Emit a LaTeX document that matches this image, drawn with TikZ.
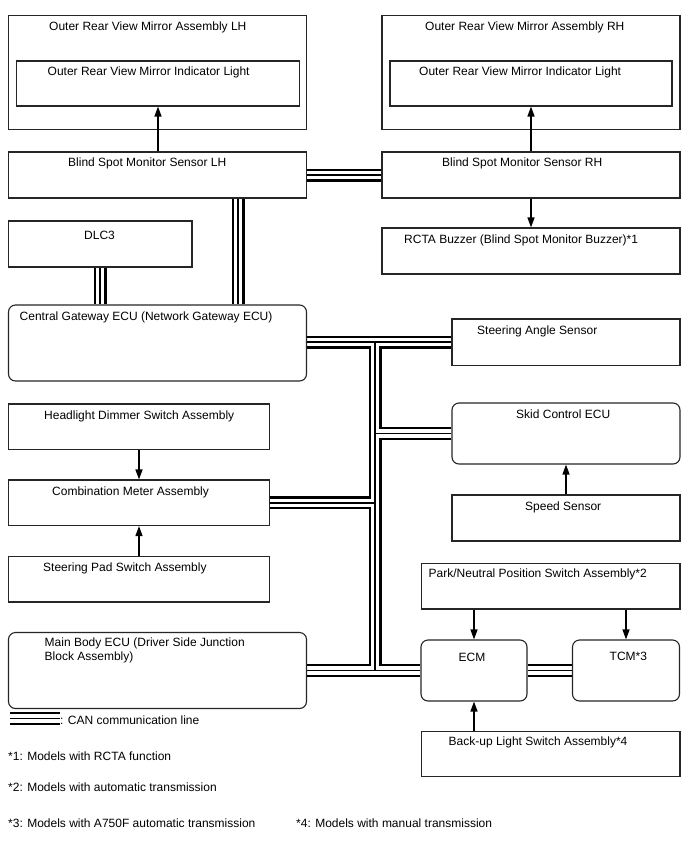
\documentclass[tikz,border=0pt]{standalone}
\usepackage{fontspec}
\setmainfont{Liberation Sans}
\usetikzlibrary{arrows.meta, backgrounds}

\begin{document}
\begin{tikzpicture}[x=1pt, y=-1pt, >={Triangle[length=10pt, width=7pt]},
  font=\fontsize{12}{14}\selectfont,
  box/.style={draw=black!85, line width=1.1pt, inner sep=0pt},
  ecu/.style={box, rounded corners=7pt},
  txt/.style={anchor=base west, inner sep=0pt},
  link/.style={->, line width=1.4pt},
  can/.style={line width=1.6pt, preaction={draw, line width=13pt}, preaction={draw=white, line width=8.4pt}}]
  \useasboundingbox (0,0) rectangle (688,852);
  % mirrors
  \node[box, minimum width=298pt, minimum height=114pt] (mirrorLH) at (157.5,72.5) {};
  \node[box, minimum width=283pt, minimum height=45pt] (lightLH) at (158,83.5) {};
  \node[box, minimum width=298pt, minimum height=114pt] (mirrorRH) at (531,72.5) {};
  \node[box, minimum width=282pt, minimum height=45pt] (lightRH) at (531,83.5) {};
  \node[txt] (mirrorLHtxt) at (49,30) {Outer Rear View Mirror Assembly LH};
  \node[txt] (lightLHtxt) at (47.5,75) {Outer Rear View Mirror Indicator Light};
  \node[txt] (mirrorRHtxt) at (425,30) {Outer Rear View Mirror Assembly RH};
  \node[txt] (lightRHtxt) at (419,75) {Outer Rear View Mirror Indicator Light};
  % sensors
  \node[box, minimum width=298pt, minimum height=46pt] (sensorLH) at (157.5,175) {};
  \node[box, minimum width=298pt, minimum height=46pt] (sensorRH) at (531,175) {};
  \node[box, minimum width=298pt, minimum height=46pt] (buzzer) at (531,251) {};
  \node[box, minimum width=183.5pt, minimum height=46pt] (dlc) at (100.25,244) {};
  \node[txt] (sensorLHtxt) at (68,166.5) {Blind Spot Monitor Sensor LH};
  \node[txt] (sensorRHtxt) at (442,166.5) {Blind Spot Monitor Sensor RH};
  \node[txt] (buzzerTxt) at (404,243) {RCTA Buzzer (Blind Spot Monitor Buzzer)*1};
  \node[txt] (dlcTxt) at (84,239) {DLC3};
  % ECUs
  \node[ecu, minimum width=298pt, minimum height=76pt] (gateway) at (157.5,343) {};
  \node[box, minimum width=228pt, minimum height=46.5pt] (steerAngle) at (566,342.25) {};
  \node[ecu, minimum width=228pt, minimum height=61pt] (skid) at (566,433.5) {};
  \node[box, minimum width=228pt, minimum height=46pt] (speed) at (566,518) {};
  \node[box, minimum width=261pt, minimum height=45.5pt] (headlight) at (139,426.75) {};
  \node[box, minimum width=261pt, minimum height=45.5pt] (combo) at (139,502.75) {};
  \node[box, minimum width=261pt, minimum height=45.5pt] (steerPad) at (139,579.25) {};
  \node[ecu, minimum width=298pt, minimum height=76pt] (mainBody) at (157.5,670.5) {};
  \node[box, minimum width=258.5pt, minimum height=45.5pt] (parkSw) at (550.75,586.25) {};
  \node[ecu, minimum width=106pt, minimum height=61pt] (ecm) at (474,670.5) {};
  \node[ecu, minimum width=107pt, minimum height=61pt] (tcm) at (626,670.5) {};
  \node[box, minimum width=258.5pt, minimum height=45pt] (backup) at (550.75,754) {};
  \node[txt] (gatewayTxt) at (19.5,320) {Central Gateway ECU (Network Gateway ECU)};
  \node[txt] (steerAngleTxt) at (477,334) {Steering Angle Sensor};
  \node[txt] (skidTxt) at (516,418) {Skid Control ECU};
  \node[txt] (speedTxt) at (525,510) {Speed Sensor};
  \node[txt] (headlightTxt) at (44,419) {Headlight Dimmer Switch Assembly};
  \node[txt] (comboTxt) at (52,495) {Combination Meter Assembly};
  \node[txt] (steerPadTxt) at (43,571.5) {Steering Pad Switch Assembly};
  \node[txt, align=left] (mainBodyTxt) at (44.5,660.5) {Main Body ECU (Driver Side Junction\\Block Assembly)};
  \node[txt] (parkTxt) at (428.5,577.5) {Park/Neutral Position Switch Assembly*2};
  \node[txt] (ecmTxt) at (458.5,661.5) {ECM};
  \node[txt] (tcmTxt) at (609.5,660) {TCM*3};
  \node[txt] (backupTxt) at (448.5,745) {Back-up Light Switch Assembly*4};
  % arrows
  \draw[link] (sensorLH.north -| lightLH) -- (lightLH.south);
  \draw[link] (sensorRH.north) -- (lightRH.south);
  \draw[link] (sensorRH.south) -- (buzzer.north);
  \draw[link] (headlight.south) -- (combo.north);
  \draw[link] (steerPad.north) -- (combo.south);
  \draw[link] (speed.north) -- (skid.south);
  \draw[link] (parkSw.south -| ecm) -- (ecm.north);
  \draw[link] (parkSw.south -| tcm) -- (tcm.north);
  \draw[link] (backup.north -| ecm) -- (ecm.south);
  % legend and notes
  \coordinate (legA) at (10,718.5);
  \coordinate (legB) at (60,718.5);
  \node[txt] (legendTxt) at (60,724) {: CAN communication line};
  \node[txt] (note1) at (8,760.5) {*1: Models with RCTA function};
  \node[txt] (note2) at (8,791.5) {*2: Models with automatic transmission};
  \node[txt] (note3) at (8,827) {*3: Models with A750F automatic transmission};
  \node[txt] (note4) at (296,827) {*4: Models with manual transmission};
  % CAN bus
  \coordinate (trunk) at (375,0);
  \coordinate (gwDrop) at (238,0);
  \begin{scope}[on background layer]
    \fill[white] (0,0) rectangle (688,852);
    \draw[can] (sensorLH.east) -- (sensorRH.west)
      (sensorLH.south -| gwDrop) -- (gateway.north -| gwDrop)
      (dlc.south) -- (dlc.south |- gateway.north)
      (gateway.east |- steerAngle.west) -- (steerAngle.west)
      (steerAngle.west -| trunk) -- (mainBody.east -| trunk)
      (trunk |- skid.west) -- (skid.west)
      (combo.east) -- (combo.east -| trunk)
      (mainBody.east) -- (ecm.west)
      (ecm.east) -- (tcm.west);
    \draw[can] (legA) -- (legB);
  \end{scope}
\end{tikzpicture}
\end{document}
